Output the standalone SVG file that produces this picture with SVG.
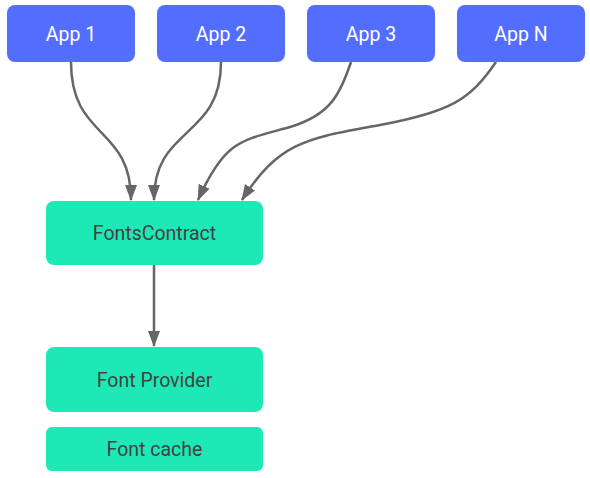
<svg xmlns="http://www.w3.org/2000/svg" width="590" height="478" viewBox="0 0 590 478">
<style>
.app{fill:#536DFE}
.box{fill:#1DE9B6}
.lbl{font-family:Roboto,"Liberation Sans",sans-serif;font-size:19.5px;text-anchor:middle;dominant-baseline:central}
.w{fill:#FFFFFF}
.d{fill:#424242}
.con{fill:none;stroke:#666666;stroke-width:2.5}
</style>
<defs>
<marker id="ah" markerUnits="userSpaceOnUse" markerWidth="16" markerHeight="16" viewBox="0 0 16 12" refX="15" refY="6" orient="auto">
<path d="M0,0 L16,6 L0,12 Z" fill="#666666"/>
</marker>
</defs>
<rect width="590" height="478" fill="#FFFFFF"/>
<g id="connectors">
<path class="con" d="M71,62 C71,140 131,125 131,200" marker-end="url(#ah)"/>
<path class="con" d="M221,62 C221,140 154,125 154,200" marker-end="url(#ah)"/>
<path class="con" d="M351,62 C340,95 330,115 290,127 C240,141 225,140 198,200" marker-end="url(#ah)"/>
<path class="con" d="M496,62 C470,100 450,112 380,125 C310,138 280,140 242,200" marker-end="url(#ah)"/>
<path class="con" d="M154,265 L154,346" marker-end="url(#ah)"/>
</g>
<g id="app1"><rect class="app" x="7" y="5" width="128" height="57" rx="8"/><text class="lbl w" x="71" y="34">App 1</text></g>
<g id="app2"><rect class="app" x="157" y="5" width="128" height="57" rx="8"/><text class="lbl w" x="221" y="34">App 2</text></g>
<g id="app3"><rect class="app" x="307" y="5" width="128" height="57" rx="8"/><text class="lbl w" x="371" y="34">App 3</text></g>
<g id="appN"><rect class="app" x="457" y="5" width="128" height="57" rx="8"/><text class="lbl w" x="521" y="34">App N</text></g>
<g id="fontsContract"><rect class="box" x="46" y="201" width="217" height="64" rx="8"/><text class="lbl d" x="154.5" y="233">FontsContract</text></g>
<g id="fontProvider"><rect class="box" x="46" y="347" width="217" height="65" rx="8"/><text class="lbl d" x="154.5" y="380">Font Provider</text></g>
<g id="fontCache"><rect class="box" x="46" y="427" width="217" height="44" rx="6"/><text class="lbl d" x="154.5" y="449">Font cache</text></g>
</svg>
